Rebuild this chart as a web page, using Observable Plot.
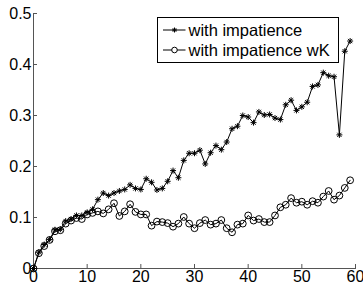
<!DOCTYPE html>
<html>
<head>
<meta charset="utf-8">
<script src="https://cdn.jsdelivr.net/npm/d3@7"></script>
<script src="https://cdn.jsdelivr.net/npm/@observablehq/plot@0.6"></script>
<style>
  body { margin: 0; background: #fff; }
  #chart { position: relative; width: 363px; height: 293px; }
  svg { font-family: "Liberation Sans", Arial, sans-serif; }
</style>
</head>
<body>
<div id="chart"></div>
<script>
// Data
const steps = d3.range(0, 60);
const withImpatience = [
  0, 0.032, 0.047, 0.057, 0.076, 0.077, 0.093, 0.097, 0.104, 0.104,
  0.11, 0.116, 0.135, 0.148, 0.143, 0.148, 0.152, 0.155, 0.164, 0.157,
  0.155, 0.176, 0.169, 0.154, 0.157, 0.171, 0.192, 0.178, 0.212, 0.226,
  0.226, 0.232, 0.205, 0.227, 0.241, 0.233, 0.248, 0.274, 0.279, 0.3,
  0.297, 0.286, 0.307, 0.301, 0.302, 0.295, 0.292, 0.321, 0.33, 0.31,
  0.317, 0.326, 0.357, 0.36, 0.384, 0.378, 0.376, 0.262, 0.426, 0.446
];
const withImpatienceWK = [
  0, 0.03, 0.044, 0.056, 0.073, 0.075, 0.088, 0.094, 0.099, 0.097,
  0.106, 0.109, 0.112, 0.108, 0.116, 0.128, 0.103, 0.112, 0.126, 0.111,
  0.106, 0.106, 0.084, 0.092, 0.091, 0.089, 0.082, 0.088, 0.101, 0.088,
  0.079, 0.089, 0.095, 0.086, 0.088, 0.095, 0.079, 0.071, 0.086, 0.088,
  0.104, 0.094, 0.097, 0.091, 0.091, 0.104, 0.12, 0.125, 0.138, 0.129,
  0.131, 0.125, 0.132, 0.129, 0.141, 0.152, 0.135, 0.143, 0.158, 0.173
];
const seriesNames = ["with impatience", "with impatience wK"];
const xTicks = [0, 10, 20, 30, 40, 50, 60];
const yTicks = [0, 0.1, 0.2, 0.3, 0.4, 0.5];

const rowsA = steps.map((x, i) => ({x, y: withImpatience[i]}));
const rowsB = steps.map((x, i) => ({x, y: withImpatienceWK[i]}));

// MATLAB-like '*' marker: plus + cross
const starSymbol = {
  draw(ctx, size) {
    const r = Math.sqrt(size / Math.PI);
    const d = r * Math.SQRT1_2;
    ctx.moveTo(-r, 0); ctx.lineTo(r, 0);
    ctx.moveTo(0, -r); ctx.lineTo(0, r);
    ctx.moveTo(-d, -d); ctx.lineTo(d, d);
    ctx.moveTo(-d, d); ctx.lineTo(d, -d);
  }
};

const W = 363, H = 293, mL = 33, mR = 8, mT = 13, mB = 25, tick = 4;

const plot = Plot.plot({
  width: W,
  height: H,
  marginLeft: mL,
  marginRight: mR,
  marginTop: mT,
  marginBottom: mB,
  style: {fontSize: "16px", fontFamily: "Liberation Sans, Arial, sans-serif", color: "#000", background: "#fff", overflow: "visible"},
  x: {domain: [0, 60]},
  y: {domain: [0, 0.5]},
  marks: [
    Plot.axisX({ticks: xTicks, tickSize: 0, tickPadding: 2, label: null, fill: "#000"}),
    Plot.axisY({ticks: yTicks, tickSize: 0, tickPadding: 2, label: null, tickFormat: d => String(d), fill: "#000"}),
    // inward tick marks
    Plot.tickX(xTicks, {x: d => d, stroke: "#555", insetTop: (H - mT - mB) - tick}),
    Plot.tickY(yTicks, {y: d => d, stroke: "#555", insetRight: (W - mL - mR) - tick}),
    Plot.frame({anchor: "bottom", stroke: "#555"}),
    Plot.frame({anchor: "left", stroke: "#555"}),
    Plot.line(rowsB, {x: "x", y: "y", stroke: "#000", strokeWidth: 1}),
    Plot.dot(rowsB, {x: "x", y: "y", r: 3.4, stroke: "#000", fill: "none", strokeWidth: 1}),
    Plot.line(rowsA, {x: "x", y: "y", stroke: "#000", strokeWidth: 1}),
    Plot.dot(rowsA, {x: "x", y: "y", r: 3, symbol: starSymbol, stroke: "#000", fill: "none", strokeWidth: 1})
  ]
});
document.getElementById("chart").appendChild(plot);

// Legend box drawn inside the svg
const svg = d3.select(plot);
const lg = svg.append("g").attr("transform", "translate(157.5,17.5)");
lg.append("rect").attr("width", 181).attr("height", 45).attr("fill", "#fff").attr("stroke", "#000").attr("stroke-width", 1);
seriesNames.forEach((name, i) => {
  const cy = 12.5 + i * 20;
  const g = lg.append("g").attr("transform", `translate(0,${cy})`);
  g.append("line").attr("x1", 5.5).attr("x2", 28).attr("y1", 0).attr("y2", 0).attr("stroke", "#000");
  if (i === 0) {
    const r = 2.5, d = r * Math.SQRT1_2;
    g.append("path").attr("transform", "translate(17,0)")
      .attr("d", `M${-r},0L${r},0M0,${-r}L0,${r}M${-d},${-d}L${d},${d}M${-d},${d}L${d},${-d}`)
      .attr("stroke", "#000").attr("fill", "none");
  } else {
    g.append("circle").attr("cx", 17).attr("cy", 0).attr("r", 2.8).attr("stroke", "#000").attr("fill", "#fff");
  }
  g.append("text").attr("x", 31).attr("y", 0).attr("dy", "0.35em")
    .attr("text-anchor", "start")
    .attr("font-size", "16.5px").attr("fill", "#000").text(name);
});
</script>
</body>
</html>
